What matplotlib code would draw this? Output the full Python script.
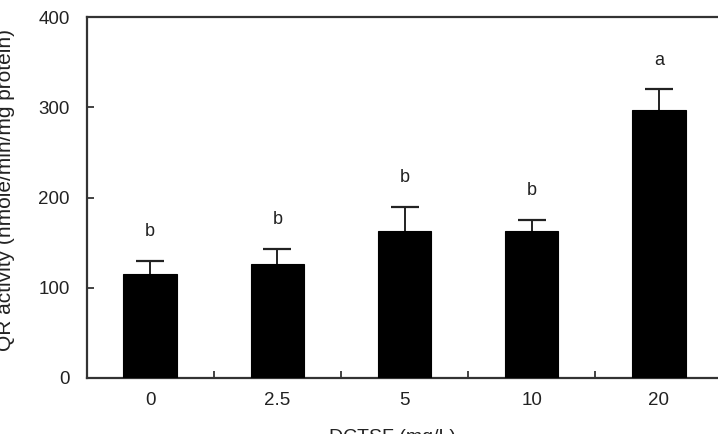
import matplotlib
matplotlib.use("Agg")
import matplotlib.pyplot as plt
from matplotlib.ticker import FixedLocator

plt.rcParams['font.family'] = ['Liberation Sans', 'DejaVu Sans']

categories = ["0", "2.5", "5", "10", "20"]
means = [115, 126, 163, 163, 297]
errors = [15, 17, 27, 12, 23]
letters = ["b", "b", "b", "b", "a"]

W, H = 718, 434
fig = plt.figure(figsize=(W / 100, H / 100), dpi=100)
left, right, bottom, top = 86.5, 722.5, 378, 17
ax = fig.add_axes([left / W, 1 - bottom / H, (right - left) / W, (bottom - top) / H])

x = list(range(len(categories)))
ax.bar(x, means, width=0.42, color='black', edgecolor='black', linewidth=0.8, zorder=3)
eb = ax.errorbar(x, means, yerr=[[0] * len(errors), errors], fmt='none', ecolor='#222222',
                 elinewidth=1.4, capsize=10, capthick=1.6, zorder=2)
eb[1][0].set_visible(False)  # hide lower caps

for xi, m, e, lab in zip(x, means, errors, letters):
    ax.annotate(lab, xy=(xi, m + e), xytext=(0, 21), textcoords='offset points',
                ha='center', va='center', fontsize=13, color='#222222')

ax.set_xlim(-0.5, len(categories) - 0.5)
ax.set_ylim(0, 400)
ax.set_yticks([0, 100, 200, 300, 400])
ax.set_xticks(x)
ax.set_xticklabels(categories)
ax.xaxis.set_minor_locator(FixedLocator([i + 0.5 for i in range(len(categories) - 1)]))

ax.tick_params(axis='x', which='major', length=0, pad=10, labelsize=13.5, colors='#222222')
ax.tick_params(axis='x', which='minor', direction='in', length=5, width=1.2, color='#222222')
ax.tick_params(axis='y', direction='in', length=5, width=1.2, pad=12, labelsize=13.5,
               colors='#222222')

for s in ['left', 'bottom', 'top', 'right']:
    ax.spines[s].set_linewidth(1.6)
    ax.spines[s].set_color('#333333')

fig.text(15 / W, 1 - 190 / H, "QR activity (nmole/min/mg protein)", rotation=90,
         ha='right', va='center', fontsize=15, color='#222222')
fig.text(392 / W, 1 - 429 / H, "DCTSF (mg/L)", ha='center', va='top',
         fontsize=14, color='#222222')

fig.savefig("out.png", dpi=100)
